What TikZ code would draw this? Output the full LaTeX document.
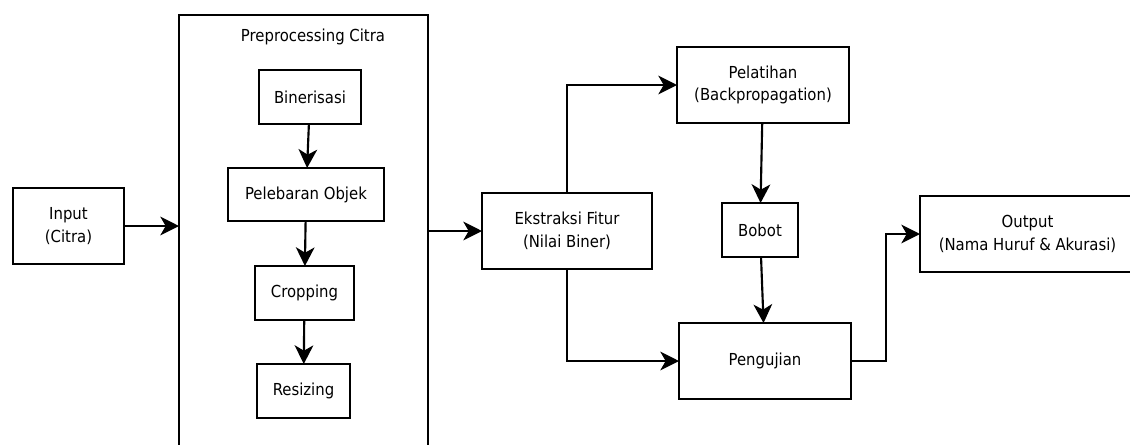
\documentclass[tikz,border=0pt]{standalone}
\usepackage{fontspec}
\setmainfont{DejaVu Sans Condensed}
\usetikzlibrary{arrows.meta}

\tikzset{
    blok/.style={draw, line width=1.6pt, inner sep=0pt, outer sep=0pt, align=center,
        font=\fontsize{12.4}{16.9}\selectfont},
    panah/.style={-{Stealth[length=14pt, width=14pt, inset=4pt]}, line width=1.6pt},
}

\begin{document}
\begin{tikzpicture}[x=0.75pt, y=-0.75pt]
    % Canvas
    \clip (0,0) rectangle (1130,444);

    % Preprocessing block (runs past the bottom edge)
    \node[blok, anchor=north, minimum width=186.75pt, minimum height=345pt] (prep) at (303.5,15) {};
    \node[font=\fontsize{12.4}{16.9}\selectfont] (judul) at (313,37) {Preprocessing Citra};

    % Steps inside preprocessing
    \node[blok, minimum width=76.5pt, minimum height=40.5pt] (bin) at (310,97) {Binerisasi};
    \node[blok, minimum width=117pt, minimum height=39.75pt] (peleb) at (306,194.5) {Pelebaran Objek};
    \node[blok, minimum width=74.25pt, minimum height=40.5pt] (crop) at (304.5,293) {Cropping};
    \node[blok, minimum width=69.75pt, minimum height=40.5pt] (resize) at (303.5,391) {Resizing};

    % Other blocks
    \node[blok, minimum width=83.25pt, minimum height=57pt] (input) at (68.5,226) {Input\\(Citra)};
    \node[blok, minimum width=127.5pt, minimum height=57pt] (ekstr) at (567,231) {Ekstraksi Fitur\\(Nilai Biner)};
    \node[blok, minimum width=129pt, minimum height=57pt] (pelat) at (763,85) {Pelatihan\\(Backpropagation)};
    \node[blok, minimum width=57pt, minimum height=40.5pt] (bobot) at (760,230) {Bobot};
    \node[blok, minimum width=129pt, minimum height=57pt] (peng) at (765,361) {Pengujian};
    \node[blok, minimum width=161.25pt, minimum height=57pt] (output) at (1027.5,234) {Output\\(Nama Huruf \& Akurasi)};

    % Arrows
    \draw[panah] (input.east) -- (input.east -| prep.west);
    \draw[panah] (bin) -- (peleb);
    \draw[panah] (peleb) -- (crop);
    \draw[panah] (crop) -- (resize);
    \draw[panah] (prep.east |- ekstr.west) -- (ekstr.west);
    \draw[panah] (ekstr.north) |- (pelat.west);
    \draw[panah] (ekstr.south) |- (peng.west);
    \draw[panah] (pelat) -- (bobot);
    \draw[panah] (bobot) -- (peng);
    \draw[panah] (peng.east) -- ++(35,0) |- (output.west);

\end{tikzpicture}
\end{document}
